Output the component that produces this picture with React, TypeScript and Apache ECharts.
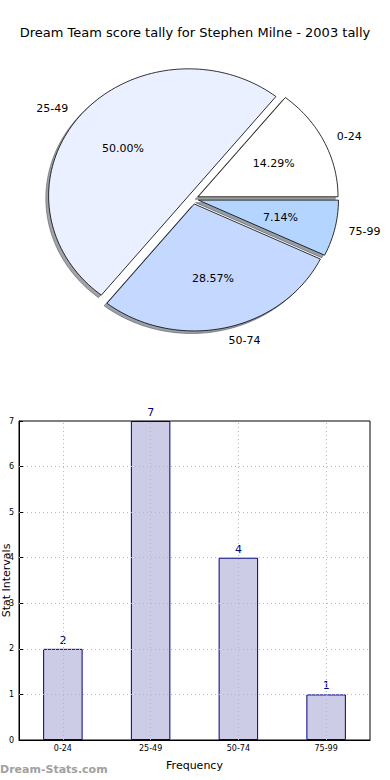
import React, { useEffect, useRef } from "react";
import * as echarts from "echarts";

const categories = ["0-24", "25-49", "50-74", "75-99"];
const frequencies = [2, 7, 4, 1];
const yTicks = [0, 1, 2, 3, 4, 5, 6, 7];
const pieColors = ["#ffffff", "#eaf0ff", "#c5d8ff", "#b3d5ff"];
const titleText = "Dream Team score tally for Stephen Milne - 2003 tally";

const FONT = "DejaVu Sans";
const CX = 193;
const CY = 199;
const RX = 140;
const RY = 127;
const EXPLODE = 0.04;

function shadowColor(hex: string) {
  const r = parseInt(hex.slice(1, 3), 16) * 0.3;
  const g = parseInt(hex.slice(3, 5), 16) * 0.3;
  const b = parseInt(hex.slice(5, 7), 16) * 0.3;
  return `rgba(${Math.round(r)},${Math.round(g)},${Math.round(b)},0.5)`;
}

export default function App() {
  const ref = useRef<HTMLDivElement>(null);
  useEffect(() => {
    document.body.style.margin = "0";
    const chart = echarts.init(ref.current!, undefined, { renderer: "svg" });
    const total = frequencies.reduce((a, b) => a + b, 0);
    let cum = 0;
    const pieData = frequencies.map((v, i) => {
      const d = [v, cum, i];
      cum += v;
      return d;
    });

    const slicePoints = (v: number, s: number, dx: number, dy: number) => {
      const t0 = (s / total) * 2 * Math.PI;
      const t1 = ((s + v) / total) * 2 * Math.PI;
      const mid = (t0 + t1) / 2;
      const ox = CX + EXPLODE * RX * Math.cos(mid) + dx;
      const oy = CY - EXPLODE * RY * Math.sin(mid) + dy;
      const pts: number[][] = [[ox, oy]];
      const n = Math.max(8, Math.ceil(((t1 - t0) / (2 * Math.PI)) * 200));
      for (let k = 0; k <= n; k++) {
        const t = t0 + ((t1 - t0) * k) / n;
        pts.push([ox + RX * Math.cos(t), oy - RY * Math.sin(t)]);
      }
      return { pts, mid, ox, oy };
    };

    const gridLineStyle = { color: "#b8b8b8", type: [1, 3], width: 1 };

    const option: any = {
      animation: false,
      backgroundColor: "#ffffff",
      title: {
        text: titleText,
        left: "center",
        top: 21,
        textStyle: { fontFamily: FONT, fontSize: 13, fontWeight: "normal", color: "#000" },
      },
      grid: {
        left: 19,
        right: 20,
        top: 421,
        bottom: 40,
        outerBoundsMode: "none",
        containLabel: false,
        show: true,
        borderColor: "#000",
        borderWidth: 1,
        backgroundColor: "#fff",
      },
      xAxis: {
        type: "category",
        data: categories,
        name: "Frequency",
        nameLocation: "middle",
        nameGap: 20,
        nameMoveOverlap: false,
        nameTextStyle: { fontFamily: FONT, fontSize: 11, color: "#000" },
        axisLine: { show: true, lineStyle: { color: "#000" } },
        axisTick: { show: true, inside: true, alignWithLabel: true, length: 4, lineStyle: { color: "#000" } },
        axisLabel: { fontFamily: FONT, fontSize: 8, color: "#000", margin: 4 },
        splitLine: { show: false },
      },
      yAxis: {
        type: "value",
        min: 0,
        max: 7,
        interval: 1,
        name: "Stat Intervals",
        nameLocation: "middle",
        nameGap: 13,
        nameRotate: 90,
        nameMoveOverlap: false,
        nameTextStyle: { fontFamily: FONT, fontSize: 11, color: "#000", verticalAlign: "middle" },
        axisLine: { show: true, lineStyle: { color: "#000" } },
        axisTick: { show: true, inside: true, length: 4, lineStyle: { color: "#000" } },
        axisLabel: {
          fontFamily: FONT,
          fontSize: 8,
          color: "#000",
          margin: 5,
          formatter: (v: number) => (yTicks.includes(v) ? String(v) : ""),
        },
        splitLine: { show: false },
      },
      series: [
        {
          type: "bar",
          data: frequencies,
          barWidth: "45%",
          itemStyle: { color: "#ccccE6", borderColor: "#000080", borderWidth: 1 },
          label: {
            show: true,
            position: "top",
            distance: 3,
            fontFamily: FONT,
            fontSize: 11,
            color: "#000080",
          },
          z: 2,
        },
        {
          type: "line",
          data: [],
          z: 10,
          silent: true,
          markLine: {
            silent: true,
            symbol: "none",
            label: { show: false },
            lineStyle: gridLineStyle,
            data: [
              ...categories.map((c) => ({ xAxis: c })),
              ...yTicks.slice(1, -1).map((t) => ({ yAxis: t })),
            ],
          },
        },
        {
          type: "custom",
          coordinateSystem: "none",
          data: pieData,
          z: 1,
          silent: true,
          renderItem: (params: any, api: any) => {
            const v = api.value(0);
            const s = api.value(1);
            const i = api.value(2);
            const { pts } = slicePoints(v, s, -0.02 * RX, 0.02 * RY);
            const c = shadowColor(pieColors[i]);
            return {
              type: "polygon",
              shape: { points: pts },
              style: { fill: c, stroke: c, lineWidth: 1 },
            };
          },
        },
        {
          type: "custom",
          coordinateSystem: "none",
          data: pieData,
          z: 3,
          silent: true,
          renderItem: (params: any, api: any) => {
            const v = api.value(0);
            const s = api.value(1);
            const i = api.value(2);
            const { pts, mid, ox, oy } = slicePoints(v, s, 0, 0);
            const lx = ox + 1.1 * RX * Math.cos(mid);
            const ly = oy - 1.1 * RY * Math.sin(mid);
            const px = ox + 0.6 * RX * Math.cos(mid);
            const py = oy - 0.6 * RY * Math.sin(mid);
            return {
              type: "group",
              children: [
                {
                  type: "polygon",
                  shape: { points: pts },
                  style: { fill: pieColors[i], stroke: "#000", lineWidth: 0.8 },
                },
                {
                  type: "text",
                  x: lx,
                  y: ly,
                  style: {
                    text: categories[i],
                    fontFamily: FONT,
                    fontSize: 11,
                    fill: "#000",
                    align: Math.cos(mid) > 0 ? "left" : "right",
                    verticalAlign: "middle",
                  },
                },
                {
                  type: "text",
                  x: px,
                  y: py,
                  style: {
                    text: ((v / total) * 100).toFixed(2) + "%",
                    fontFamily: FONT,
                    fontSize: 11,
                    fill: "#000",
                    align: "center",
                    verticalAlign: "middle",
                  },
                },
              ],
            };
          },
        },
      ],
      graphic: [
        {
          type: "text",
          left: 0,
          top: 764,
          style: {
            text: "Dream-Stats.com",
            fontFamily: FONT,
            fontSize: 11,
            fontWeight: "bold",
            fill: "#a0a0a0",
          },
        },
      ],
    };
    chart.setOption(option);
    return () => chart.dispose();
  }, []);
  return (
    <div
      ref={ref}
      style={{ position: "fixed", left: 0, top: 0, width: 390, height: 780 }}
    />
  );
}
